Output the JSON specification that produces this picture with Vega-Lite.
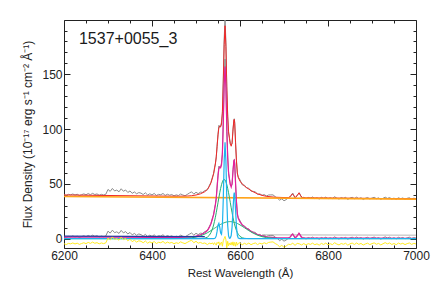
{
"$schema":"https://vega.github.io/schema/vega-lite/v6.json",
"width":352,"height":228,
"autosize":{"type":"none"},
"padding":{"left":64,"top":20,"right":20,"bottom":42},
"background":"white",
"config":{"view":{"stroke":"#222","strokeWidth":1},
"axis":{"labelFont":"Liberation Sans","titleFont":"Liberation Sans","labelFontSize":12,"titleFontSize":11.5,"titleFontWeight":"normal","labelColor":"#222","titleColor":"#222","tickColor":"#222","grid":false,"domain":false,"labelOverlap":false,"labelFlush":false}},
"datasets":{
"obs":[
{"w":6200,"u":40.1,"l":1.7,"r":-4.7},{"w":6205,"u":39.3,"l":0.9,"r":-5.5},{"w":6210,"u":40.4,"l":2.0,"r":-4.4},{"w":6215,"u":40.0,"l":1.6,"r":-4.8},{"w":6220,"u":40.7,"l":2.4,"r":-4.0},{"w":6225,"u":39.8,"l":1.5,"r":-4.9},{"w":6230,"u":40.5,"l":2.2,"r":-4.2},{"w":6235,"u":39.3,"l":1.0,"r":-5.3},{"w":6240,"u":40.1,"l":1.8,"r":-4.5},{"w":6245,"u":40.8,"l":2.5,"r":-3.8},{"w":6250,"u":40.0,"l":1.7,"r":-4.6},{"w":6255,"u":41.1,"l":2.8,"r":-3.5},{"w":6260,"u":40.1,"l":1.9,"r":-4.4},{"w":6265,"u":41.3,"l":3.1,"r":-3.2},{"w":6270,"u":40.2,"l":2.0,"r":-4.3},{"w":6275,"u":40.8,"l":2.6,"r":-3.7},{"w":6280,"u":39.6,"l":1.5,"r":-4.8},{"w":6285,"u":40.4,"l":2.3,"r":-4.0},{"w":6290,"u":39.8,"l":1.7,"r":-4.6},{"w":6295,"u":40.5,"l":2.4,"r":-3.9},
{"w":6300,"u":44.9,"l":6.8,"r":0.5},{"w":6305,"u":43.1,"l":5.0,"r":-1.2},{"w":6310,"u":45.8,"l":7.7,"r":1.5},{"w":6315,"u":43.5,"l":5.4,"r":-0.8},{"w":6320,"u":44.3,"l":6.2,"r":0.0},{"w":6325,"u":42.7,"l":4.7,"r":-1.5},{"w":6330,"u":45.5,"l":7.5,"r":1.3},{"w":6335,"u":43.2,"l":5.2,"r":-1.0},{"w":6340,"u":44.4,"l":6.4,"r":0.2},{"w":6345,"u":42.1,"l":4.2,"r":-2.0},{"w":6350,"u":43.5,"l":5.6,"r":-0.6},{"w":6355,"u":41.3,"l":3.4,"r":-2.8},{"w":6360,"u":42.6,"l":4.7,"r":-1.5},{"w":6365,"u":40.9,"l":3.0,"r":-3.2},{"w":6370,"u":42.0,"l":4.2,"r":-2.0},{"w":6375,"u":41.5,"l":3.6,"r":-2.5},{"w":6380,"u":40.2,"l":2.3,"r":-3.8},{"w":6385,"u":41.8,"l":3.9,"r":-2.2},{"w":6390,"u":39.8,"l":1.9,"r":-4.2},{"w":6395,"u":40.9,"l":3.1,"r":-3.0},
{"w":6400,"u":39.9,"l":2.1,"r":-4.0},{"w":6405,"u":41.2,"l":3.4,"r":-2.7},{"w":6410,"u":39.4,"l":1.6,"r":-4.5},{"w":6415,"u":40.4,"l":2.7,"r":-3.4},{"w":6420,"u":40.0,"l":2.3,"r":-3.8},{"w":6425,"u":41.2,"l":3.5,"r":-2.6},{"w":6430,"u":39.4,"l":1.6,"r":-4.4},{"w":6435,"u":40.5,"l":2.8,"r":-3.2},{"w":6440,"u":39.6,"l":1.9,"r":-4.1},{"w":6445,"u":40.2,"l":2.5,"r":-3.5},{"w":6450,"u":39.0,"l":1.3,"r":-4.7},{"w":6455,"u":39.9,"l":2.2,"r":-3.8},{"w":6460,"u":39.3,"l":1.6,"r":-4.4},{"w":6465,"u":40.7,"l":3.1,"r":-3.0},{"w":6470,"u":39.8,"l":2.2,"r":-3.9},{"w":6475,"u":39.1,"l":1.6,"r":-4.6},{"w":6480,"u":40.3,"l":2.8,"r":-3.5},{"w":6485,"u":41.6,"l":4.0,"r":-2.4},{"w":6490,"u":42.7,"l":5.1,"r":-1.5},{"w":6495,"u":40.6,"l":3.1,"r":-3.8},
{"w":6500,"u":42.3,"l":4.8,"r":-2.5},{"w":6505,"u":41.0,"l":3.6,"r":-4.2},{"w":6510,"u":42.4,"l":4.9,"r":-3.5},{"w":6515,"u":42.2,"l":4.7,"r":-4.5},{"w":6520,"u":43.8,"l":6.4,"r":-4.0},{"w":6526,"u":44.5,"l":7.1,"r":-5.5},{"w":6530,"u":48.2,"l":10.8,"r":-4.2},{"w":6534,"u":51.3,"l":13.9,"r":-4.7},{"w":6538,"u":57.1,"l":19.8,"r":-4.0},{"w":6540,"u":59.0,"l":21.6,"r":-5.5},{"w":6542,"u":64.6,"l":27.2,"r":-3.8},{"w":6544,"u":68.5,"l":31.1,"r":-4.6},{"w":6546,"u":73.7,"l":36.3,"r":-6.0},{"w":6548,"u":85.6,"l":48.2,"r":-3.5},{"w":6550,"u":95.1,"l":57.8,"r":-4.5},{"w":6552,"u":103.4,"l":66.1,"r":-3.0},{"w":6554,"u":101.5,"l":64.2,"r":-6.2},{"w":6556,"u":102.8,"l":65.5,"r":-4.2},{"w":6558,"u":106.4,"l":69.1,"r":-3.2},{"w":6560,"u":113.9,"l":76.6,"r":-7.0},
{"w":6562,"u":144.9,"l":107.6,"r":-2.0},{"w":6564,"u":182.1,"l":144.8,"r":0.0},{"w":6566,"u":201.3,"l":164.0,"r":2.0},{"w":6568,"u":179.4,"l":142.1,"r":-1.0},{"w":6570,"u":135.2,"l":97.9,"r":-8.5},{"w":6572,"u":113.6,"l":76.3,"r":-2.5},{"w":6574,"u":96.4,"l":59.1,"r":-6.5},{"w":6576,"u":92.3,"l":55.0,"r":-4.0},{"w":6578,"u":86.0,"l":48.7,"r":-5.8},{"w":6580,"u":85.8,"l":48.6,"r":-3.5},{"w":6582,"u":86.5,"l":49.2,"r":-6.0},{"w":6584,"u":100.1,"l":62.9,"r":-3.0},{"w":6586,"u":106.9,"l":69.7,"r":-6.5},{"w":6587,"u":109.4,"l":72.2,"r":-4.5},{"w":6588,"u":106.3,"l":69.1,"r":-3.5},{"w":6590,"u":85.6,"l":48.3,"r":-7.0},{"w":6592,"u":71.7,"l":34.5,"r":-3.2},{"w":6594,"u":59.0,"l":21.8,"r":-6.0},{"w":6596,"u":56.3,"l":19.1,"r":-4.4},{"w":6600,"u":53.6,"l":16.4,"r":-3.8},
{"w":6605,"u":49.1,"l":11.9,"r":-5.8},{"w":6610,"u":48.8,"l":11.6,"r":-4.3},{"w":6615,"u":46.2,"l":9.1,"r":-5.3},{"w":6620,"u":46.0,"l":8.9,"r":-4.1},{"w":6625,"u":43.3,"l":6.2,"r":-5.6},{"w":6630,"u":43.1,"l":6.0,"r":-4.6},{"w":6635,"u":42.7,"l":5.6,"r":-4.0},{"w":6640,"u":40.3,"l":3.2,"r":-5.5},{"w":6645,"u":40.9,"l":3.8,"r":-4.2},{"w":6650,"u":39.5,"l":2.4,"r":-5.0},{"w":6655,"u":40.2,"l":3.1,"r":-3.8},{"w":6660,"u":38.9,"l":1.9,"r":-4.7},{"w":6665,"u":39.8,"l":2.8,"r":-3.5},{"w":6670,"u":39.9,"l":2.9,"r":-3.2},{"w":6675,"u":39.9,"l":2.9,"r":-3.0},{"w":6680,"u":38.3,"l":1.3,"r":-4.5},{"w":6685,"u":37.0,"l":0.1,"r":-5.6},{"w":6690,"u":35.1,"l":-1.9,"r":-7.5},{"w":6695,"u":36.3,"l":-0.6,"r":-6.2},{"w":6700,"u":34.5,"l":-2.4,"r":-8.0},
{"w":6705,"u":35.6,"l":-1.3,"r":-6.8},{"w":6710,"u":37.2,"l":0.4,"r":-5.2},{"w":6715,"u":38.3,"l":1.5,"r":-5.5},{"w":6720,"u":41.5,"l":4.6,"r":-4.2},{"w":6725,"u":36.6,"l":-0.2,"r":-6.2},{"w":6730,"u":39.8,"l":3.0,"r":-4.4},{"w":6735,"u":41.7,"l":5.0,"r":-4.8},{"w":6740,"u":37.1,"l":0.3,"r":-5.8},{"w":6745,"u":37.7,"l":1.0,"r":-4.5},{"w":6750,"u":36.3,"l":-0.4,"r":-5.9},{"w":6755,"u":37.6,"l":0.9,"r":-4.6},{"w":6760,"u":36.9,"l":0.2,"r":-5.3},{"w":6765,"u":38.0,"l":1.3,"r":-4.2},{"w":6770,"u":36.5,"l":-0.1,"r":-5.6},{"w":6775,"u":37.3,"l":0.7,"r":-4.8},{"w":6780,"u":36.1,"l":-0.6,"r":-6.0},{"w":6785,"u":37.7,"l":1.0,"r":-4.4},{"w":6790,"u":36.6,"l":0.0,"r":-5.4},{"w":6795,"u":37.9,"l":1.3,"r":-4.1},{"w":6800,"u":36.3,"l":-0.3,"r":-5.7},
{"w":6805,"u":37.3,"l":0.7,"r":-4.7},{"w":6810,"u":36.5,"l":-0.1,"r":-5.5},{"w":6815,"u":38.2,"l":1.6,"r":-3.8},{"w":6820,"u":36.9,"l":0.4,"r":-5.0},{"w":6825,"u":36.1,"l":-0.4,"r":-5.8},{"w":6830,"u":37.4,"l":0.9,"r":-4.5},{"w":6835,"u":36.7,"l":0.2,"r":-5.2},{"w":6840,"u":37.6,"l":1.1,"r":-4.3},{"w":6845,"u":35.8,"l":-0.6,"r":-6.0},{"w":6850,"u":37.0,"l":0.6,"r":-4.8},{"w":6855,"u":37.7,"l":1.3,"r":-4.1},{"w":6860,"u":36.4,"l":0.0,"r":-5.4},{"w":6865,"u":37.8,"l":1.4,"r":-4.0},{"w":6870,"u":36.4,"l":0.1,"r":-5.3},{"w":6875,"u":37.3,"l":1.0,"r":-4.4},{"w":6880,"u":35.8,"l":-0.5,"r":-5.9},{"w":6885,"u":36.8,"l":0.5,"r":-4.9},{"w":6890,"u":37.5,"l":1.2,"r":-4.2},{"w":6895,"u":36.2,"l":-0.2,"r":-5.5},{"w":6900,"u":37.0,"l":0.7,"r":-4.6},
{"w":6905,"u":37.7,"l":1.4,"r":-3.9},{"w":6910,"u":36.4,"l":0.1,"r":-5.2},{"w":6915,"u":37.2,"l":0.9,"r":-4.4},{"w":6920,"u":35.8,"l":-0.5,"r":-5.8},{"w":6925,"u":36.8,"l":0.6,"r":-4.7},{"w":6930,"u":37.8,"l":1.6,"r":-3.7},{"w":6935,"u":36.7,"l":0.5,"r":-4.8},{"w":6940,"u":37.5,"l":1.3,"r":-4.0},{"w":6945,"u":36.1,"l":-0.1,"r":-5.4},{"w":6950,"u":37.0,"l":0.8,"r":-4.5},{"w":6955,"u":35.8,"l":-0.3,"r":-5.6},{"w":6960,"u":37.3,"l":1.2,"r":-4.1},{"w":6965,"u":36.4,"l":0.3,"r":-5.0},{"w":6970,"u":37.1,"l":1.0,"r":-4.3},{"w":6975,"u":35.9,"l":-0.2,"r":-5.5},{"w":6980,"u":36.8,"l":0.7,"r":-4.6},{"w":6985,"u":37.3,"l":1.3,"r":-4.0},{"w":6990,"u":36.0,"l":0.0,"r":-5.3},{"w":6995,"u":36.9,"l":0.9,"r":-4.4},{"w":7000,"u":36.4,"l":0.4,"r":-4.9}
],
"mod":[
{"w":6200,"R":39.8,"M":1.4,"C":0,"B1":0,"B2":0},{"w":6300,"R":39.35,"M":1.25,"C":0,"B1":0,"B2":0},{"w":6400,"R":38.9,"M":1.1,"C":0,"B1":0,"B2":0},{"w":6440,"R":38.73,"M":1.05,"C":0,"B1":0,"B2":0},{"w":6460,"R":38.68,"M":1.06,"C":0,"B1":0,"B2":0.06},{"w":6480,"R":38.84,"M":1.28,"C":0,"B1":0,"B2":0.33},{"w":6490,"R":39.16,"M":1.63,"C":0,"B1":0,"B2":0.7},{"w":6500,"R":39.78,"M":2.28,"C":0,"B1":0,"B2":1.38},{"w":6510,"R":40.86,"M":3.39,"C":0,"B1":0.03,"B2":2.48},{"w":6520,"R":42.8,"M":5.36,"C":0,"B1":0.4,"B2":4.1},
{"w":6526,"R":44.99,"M":7.57,"C":0,"B1":1.36,"B2":5.36},{"w":6530,"R":47.36,"M":9.95,"C":0,"B1":2.82,"B2":6.29},{"w":6534,"R":50.97,"M":13.57,"C":0,"B1":5.45,"B2":7.29},{"w":6538,"R":56.14,"M":18.75,"C":0,"B1":9.6,"B2":8.33},{"w":6540,"R":59.47,"M":22.09,"C":0,"B1":12.4,"B2":8.87},{"w":6542,"R":63.38,"M":26.01,"C":0.08,"B1":15.7,"B2":9.41},{"w":6544,"R":68.09,"M":30.72,"C":0.57,"B1":19.4,"B2":9.94},{"w":6546,"R":74.69,"M":37.33,"C":2.45,"B1":23.6,"B2":10.47},{"w":6548,"R":84.07,"M":46.71,"C":6.8,"B1":28.1,"B2":11.0},{"w":6550,"R":94.61,"M":57.26,"C":12.15,"B1":32.8,"B2":11.51},
{"w":6552,"R":101.42,"M":64.08,"C":13.87,"B1":37.4,"B2":12.01},{"w":6554,"R":102.7,"M":65.36,"C":10.17,"B1":41.9,"B2":12.49},{"w":6556,"R":101.99,"M":64.66,"C":5.11,"B1":45.8,"B2":12.95},{"w":6558,"R":104.64,"M":67.31,"C":3.94,"B1":49.2,"B2":13.38},{"w":6560,"R":115.87,"M":78.55,"C":12.18,"B1":51.8,"B2":13.78},{"w":6562,"R":141.94,"M":104.63,"C":36.2,"B1":53.5,"B2":14.14},{"w":6564,"R":177.07,"M":139.76,"C":70.5,"B1":54,"B2":14.47},{"w":6566,"R":194.33,"M":157.03,"C":88,"B1":53.5,"B2":14.75},{"w":6568,"R":175.37,"M":138.07,"C":70.5,"B1":51.8,"B2":14.99},{"w":6570,"R":138.66,"M":101.37,"C":36.2,"B1":49.2,"B2":15.19},
{"w":6572,"R":111.1,"M":73.82,"C":11.9,"B1":45.8,"B2":15.34},{"w":6574,"R":97.9,"M":60.62,"C":2.5,"B1":41.9,"B2":15.44},{"w":6576,"R":91.29,"M":54.01,"C":0.34,"B1":37.4,"B2":15.49},{"w":6578,"R":86.8,"M":49.53,"C":0.47,"B1":32.8,"B2":15.49},{"w":6580,"R":84.33,"M":47.07,"C":2.76,"B1":28.1,"B2":15.44},{"w":6582,"R":87.47,"M":50.21,"C":10.5,"B1":23.6,"B2":15.34},{"w":6584,"R":98.11,"M":60.86,"C":25.5,"B1":19.4,"B2":15.19},{"w":6586,"R":108.4,"M":71.16,"C":39.7,"B1":15.7,"B2":14.99},{"w":6587,"R":108.89,"M":71.65,"C":42,"B1":14.0,"B2":14.88},{"w":6588,"R":104.85,"M":67.61,"C":39.7,"B1":12.4,"B2":14.75},
{"w":6590,"R":87.56,"M":50.33,"C":25.5,"B1":9.6,"B2":14.47},{"w":6592,"R":69.93,"M":32.7,"C":10.5,"B1":7.3,"B2":14.14},{"w":6594,"R":60.02,"M":22.8,"C":2.76,"B1":5.5,"B2":13.78},{"w":6596,"R":55.73,"M":18.51,"C":0.47,"B1":3.9,"B2":13.38},{"w":6600,"R":52.44,"M":15.24,"C":0,"B1":2.0,"B2":12.49},{"w":6605,"R":49.92,"M":12.73,"C":0,"B1":0.74,"B2":11.25},{"w":6610,"R":48.08,"M":10.91,"C":0,"B1":0.24,"B2":9.94},{"w":6615,"R":46.55,"M":9.39,"C":0,"B1":0.07,"B2":8.6},{"w":6620,"R":45.14,"M":8.0,"C":0,"B1":0,"B2":7.29},{"w":6630,"R":42.72,"M":5.61,"C":0,"B1":0,"B2":4.92},
{"w":6640,"R":40.82,"M":3.74,"C":0,"B1":0,"B2":3.07},{"w":6650,"R":39.46,"M":2.41,"C":0,"B1":0,"B2":1.76},{"w":6660,"R":38.58,"M":1.56,"C":0,"B1":0,"B2":0.93},{"w":6680,"R":37.75,"M":0.79,"C":0,"B1":0,"B2":0.2},{"w":6700,"R":37.48,"M":0.58,"C":0,"B1":0,"B2":0.03},{"w":6710,"R":37.44,"M":0.57,"C":0,"B1":0,"B2":0},{"w":6714,"R":38.25,"M":1.39,"C":0,"B1":0,"B2":0},{"w":6716,"R":39.47,"M":2.62,"C":0,"B1":0,"B2":0},{"w":6719,"R":40.85,"M":4.01,"C":0,"B1":0,"B2":0},{"w":6722,"R":39.44,"M":2.61,"C":0,"B1":0,"B2":0},
{"w":6726,"R":37.68,"M":0.86,"C":0,"B1":0,"B2":0},{"w":6730,"R":39.16,"M":2.35,"C":0,"B1":0,"B2":0},{"w":6734,"R":41.79,"M":4.99,"C":0,"B1":0,"B2":0},{"w":6738,"R":39.13,"M":2.34,"C":0,"B1":0,"B2":0},{"w":6742,"R":37.38,"M":0.61,"C":0,"B1":0,"B2":0},{"w":6750,"R":37.22,"M":0.47,"C":0,"B1":0,"B2":0},{"w":6800,"R":37.05,"M":0.45,"C":0,"B1":0,"B2":0},{"w":6900,"R":36.68,"M":0.38,"C":0,"B1":0,"B2":0},{"w":7000,"R":36.3,"M":0.3,"C":0,"B1":0,"B2":0}
],
"cont":[{"w":6200,"f":38.4},{"w":7000,"f":36.0}],
"blue":[{"w":6200,"f":2.3},{"w":6520,"f":1.7}],
"lgray":[{"w":6650,"f":3.6},{"w":7000,"f":3.1}],
"label":[{"name":"1537+0055_3"}]
},
"layer":[
{"data":{"name":"obs"},"mark":{"type":"line","clip":true,"color":"#8c8c8c","strokeWidth":1},
 "encoding":{
  "x":{"field":"w","type":"quantitative","scale":{"domain":[6200,7000],"nice":false,"zero":false},
   "axis":{"orient":"bottom","values":[6200,6250,6300,6350,6400,6450,6500,6550,6600,6650,6700,6750,6800,6850,6900,6950,7000],"format":"d","labelExpr":"datum.value % 200 === 0 ? datum.label : ''","tickSize":{"condition":{"test":"datum.value % 200 === 0","value":-6},"value":-3},"labelPadding":8,"title":"Rest Wavelength (Å)","titlePadding":3}},
  "y":{"field":"u","type":"quantitative","scale":{"domain":[-8.6,199.6],"nice":false,"zero":false},
   "axis":{"orient":"left","values":[0,10,20,30,40,50,60,70,80,90,100,110,120,130,140,150,160,170,180,190],"labelExpr":"datum.value % 50 === 0 ? datum.label : ''","tickSize":{"condition":{"test":"datum.value % 50 === 0","value":-6},"value":-3},"labelPadding":8,"title":"Flux Density (10⁻¹⁷ erg s⁻¹ cm⁻² Å⁻¹)","titleFontSize":12,"titlePadding":7}}}},
{"data":{"name":"mod"},"mark":{"type":"line","clip":true,"color":"#f02828","strokeWidth":1},
 "encoding":{
  "x":{"field":"w","type":"quantitative","scale":{"domain":[6200,7000],"nice":false,"zero":false},
   "axis":{"orient":"top","values":[6200,6250,6300,6350,6400,6450,6500,6550,6600,6650,6700,6750,6800,6850,6900,6950,7000],"labels":false,"tickSize":{"condition":{"test":"datum.value % 200 === 0","value":-6},"value":-3},"title":null}},
  "y":{"field":"R","type":"quantitative","scale":{"domain":[-8.6,199.6],"nice":false,"zero":false},
   "axis":{"orient":"right","values":[0,10,20,30,40,50,60,70,80,90,100,110,120,130,140,150,160,170,180,190],"labels":false,"tickSize":{"condition":{"test":"datum.value % 50 === 0","value":-6},"value":-3},"title":null}}}},
{"data":{"name":"cont"},"mark":{"type":"line","clip":true,"color":"#ffa31a","strokeWidth":1.6},
 "encoding":{"x":{"field":"w","type":"quantitative","axis":null},"y":{"field":"f","type":"quantitative","axis":null}}},
{"data":{"name":"lgray"},"mark":{"type":"line","clip":true,"color":"#d0d0d0","strokeWidth":1.5},
 "encoding":{"x":{"field":"w","type":"quantitative","axis":null},"y":{"field":"f","type":"quantitative","axis":null}}},
{"data":{"name":"obs"},"mark":{"type":"line","clip":true,"color":"#8c8c8c","strokeWidth":1},
 "encoding":{"x":{"field":"w","type":"quantitative","axis":null},"y":{"field":"l","type":"quantitative","axis":null}}},
{"data":{"name":"mod"},"mark":{"type":"line","clip":true,"color":"#e4209c","strokeWidth":1.2},
 "encoding":{"x":{"field":"w","type":"quantitative","axis":null},"y":{"field":"M","type":"quantitative","axis":null}}},
{"data":{"name":"mod"},"mark":{"type":"line","clip":true,"color":"#22b070","strokeWidth":1},
 "encoding":{"x":{"field":"w","type":"quantitative","axis":null},"y":{"field":"B2","type":"quantitative","axis":null}}},
{"data":{"name":"mod"},"mark":{"type":"line","clip":true,"color":"#22b070","strokeWidth":1},
 "encoding":{"x":{"field":"w","type":"quantitative","axis":null},"y":{"field":"B1","type":"quantitative","axis":null}}},
{"data":{"name":"mod"},"mark":{"type":"line","clip":true,"color":"#1eb4ee","strokeWidth":1.2},
 "encoding":{"x":{"field":"w","type":"quantitative","axis":null},"y":{"field":"C","type":"quantitative","axis":null}}},
{"data":{"name":"blue"},"mark":{"type":"line","clip":true,"color":"#2838a0","strokeWidth":1.2},
 "encoding":{"x":{"field":"w","type":"quantitative","axis":null},"y":{"field":"f","type":"quantitative","axis":null}}},
{"data":{"name":"obs"},"mark":{"type":"line","clip":true,"color":"#ffec1f","strokeWidth":1},
 "encoding":{"x":{"field":"w","type":"quantitative","axis":null},"y":{"field":"r","type":"quantitative","axis":null}}},
{"data":{"name":"label"},"mark":{"type":"text","align":"left","baseline":"alphabetic","fontSize":16,"font":"Liberation Sans","color":"#1a1a1a"},
 "encoding":{"text":{"field":"name","type":"nominal"},"x":{"datum":6234,"type":"quantitative","axis":null},"y":{"datum":178,"type":"quantitative","axis":null}}}
],
"resolve":{"scale":{"x":"shared","y":"shared"},"axis":{"x":"independent","y":"independent"}}
}
